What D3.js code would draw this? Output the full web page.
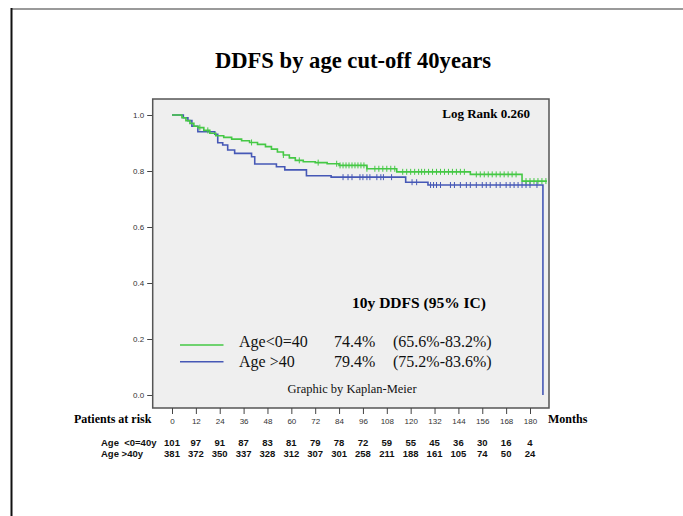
<!DOCTYPE html>
<html>
<head>
<meta charset="utf-8">
<script src="https://cdn.jsdelivr.net/npm/d3@7"></script>
<style>
  html, body { margin: 0; padding: 0; background: #fff; }
  svg { display: block; }
</style>
</head>
<body>
<svg id="chart" width="683" height="516"></svg>
<script>
// Kaplan-Meier steps: [month, survival]
const groupNames = ["Age<0=40", "Age >40"];
const greenSteps = [
  [0, 1.0], [5, 0.99], [7, 0.98], [9, 0.97], [11, 0.96], [13, 0.955], [16, 0.945],
  [19, 0.935], [22, 0.926], [26, 0.92], [30, 0.914], [35, 0.908], [39, 0.902],
  [43, 0.895], [47, 0.887], [50, 0.878], [53, 0.868], [56, 0.857], [59, 0.847],
  [62, 0.838], [66, 0.833], [72, 0.83], [78, 0.826], [84, 0.82], [98, 0.808],
  [113, 0.797], [150, 0.788], [176, 0.764], [188.5, 0.764]
];
const blueSteps = [
  [0, 1.0], [5.7, 0.99], [8, 0.98], [10, 0.96], [13, 0.94], [21.5, 0.931],
  [23, 0.901], [25.5, 0.893], [28, 0.875], [31.5, 0.863], [40, 0.851],
  [41.6, 0.825], [52.5, 0.815], [56.7, 0.804], [67.6, 0.783], [80, 0.778],
  [117.5, 0.76], [128.7, 0.75], [186.5, 0.0]
];
// censored observations (months)
const greenCensor = [
  14, 18, 40, 56, 64, 73.5, 82.8, 84.5, 86, 87.5, 89, 90.5, 92, 93.5, 95, 96.5, 98,
  102, 104, 106, 108, 110, 112, 116, 118, 120, 122, 124, 125.5, 127, 129, 131, 133,
  135, 137, 139, 141, 143, 145, 147, 153, 155, 157, 159, 161, 163, 165, 167, 169,
  171, 173, 178, 180, 182, 184, 186, 188
];
const blueCensor = [
  86, 88.5, 90.5, 94.5, 96, 98, 99.5, 103, 105, 106.3, 110.4, 120.7, 123, 130,
  131.5, 133, 135, 140, 142, 145, 148, 150, 153, 156, 158, 160, 163, 165, 168,
  170, 172, 174, 176, 178, 180, 183.5
];

const yTicks = [0.0, 0.2, 0.4, 0.6, 0.8, 1.0];
const xTicks = [0, 12, 24, 36, 48, 60, 72, 84, 96, 108, 120, 132, 144, 156, 168, 180];
const riskLabels = ["Age  <0=40y", "Age >40y"];
const riskGreen = [101, 97, 91, 87, 83, 81, 79, 78, 72, 59, 55, 45, 36, 30, 16, 4];
const riskBlue = [381, 372, 350, 337, 328, 312, 307, 301, 258, 211, 188, 161, 105, 74, 50, 24];
const tenYear = [["74.4%", "(65.6%-83.2%)"], ["79.4%", "(75.2%-83.6%)"]];

const GREEN = "#45c845";
const BLUE = "#4658b6";
const SERIF = "'Liberation Serif', 'Times New Roman', serif";
const SANS = "'Liberation Sans', Arial, sans-serif";

const svg = d3.select("#chart");

// page frame lines
svg.append("line").attr("x1", 11).attr("x2", 683).attr("y1", 9).attr("y2", 9)
  .attr("stroke", "#9a9a9a").attr("stroke-width", 2);
svg.append("line").attr("x1", 11.5).attr("x2", 11.5).attr("y1", 8).attr("y2", 516)
  .attr("stroke", "#111").attr("stroke-width", 2);

// title
svg.append("text").attr("x", 353).attr("y", 68).attr("text-anchor", "middle")
  .attr("font-family", SERIF).attr("font-weight", "bold").attr("font-size", 22.6)
  .attr("fill", "#000").text("DDFS by age cut-off 40years");

const x = d3.scaleLinear().domain([0, 180]).range([172, 530]);
const y = d3.scaleLinear().domain([0, 1]).range([395, 115]);

const frame = { left: 152.7, right: 549, top: 99, bottom: 408 };

svg.append("rect")
  .attr("x", frame.left).attr("y", frame.top)
  .attr("width", frame.right - frame.left).attr("height", frame.bottom - frame.top)
  .attr("fill", "#efefef").attr("stroke", "#555").attr("stroke-width", 1.5);

// y axis
const yAxis = d3.axisLeft(y).tickValues(yTicks).tickFormat(d3.format(".1f"))
  .tickSize(5).tickPadding(3);
const gy = svg.append("g").attr("transform", `translate(${frame.left - 0.5},0)`).call(yAxis);
gy.select(".domain").remove();
gy.selectAll("line").attr("stroke", "#444");
gy.selectAll("text").attr("font-family", SANS).attr("font-size", 8).attr("fill", "#333");

// x axis
const xAxis = d3.axisBottom(x).tickValues(xTicks).tickSize(6).tickPadding(4);
const gx = svg.append("g").attr("transform", `translate(0,${frame.bottom})`).call(xAxis);
gx.select(".domain").remove();
gx.selectAll("line").attr("stroke", "#444");
gx.selectAll("text").attr("font-family", SANS).attr("font-size", 8).attr("fill", "#333");

// curves
const line = d3.line().x(d => x(d[0])).y(d => y(d[1])).curve(d3.curveStepAfter);
const survAt = (steps, t) => {
  const i = d3.bisector(d => d[0]).right(steps, t) - 1;
  return steps[Math.max(0, i)][1];
};

function drawGroup(steps, censor, color) {
  svg.append("path").datum(steps).attr("d", line)
    .attr("fill", "none").attr("stroke", color).attr("stroke-width", 1.6);
  svg.append("g").selectAll("line").data(censor).join("line")
    .attr("x1", d => x(d)).attr("x2", d => x(d))
    .attr("y1", d => y(survAt(steps, d)) - 3)
    .attr("y2", d => y(survAt(steps, d)) + 3)
    .attr("stroke", color).attr("stroke-width", 1);
}
drawGroup(blueSteps, blueCensor, BLUE);
drawGroup(greenSteps, greenCensor, GREEN);

// annotations inside the plot
svg.append("text").attr("x", 530).attr("y", 118).attr("text-anchor", "end")
  .attr("font-family", SERIF).attr("font-weight", "bold").attr("font-size", 13)
  .text("Log Rank 0.260");
svg.append("text").attr("x", 419).attr("y", 308).attr("text-anchor", "middle")
  .attr("font-family", SERIF).attr("font-weight", "bold").attr("font-size", 15.5)
  .text("10y DDFS (95% IC)");

const legendColors = [GREEN, BLUE];
const legendY = [346.7, 367];
const legendLineY = [345, 361.7];
groupNames.forEach((name, i) => {
  svg.append("line").attr("x1", 180).attr("x2", 223.5)
    .attr("y1", legendLineY[i]).attr("y2", legendLineY[i])
    .attr("stroke", legendColors[i]).attr("stroke-width", 1.6);
  const t = svg.append("g").attr("font-family", SERIF).attr("font-size", 16).attr("fill", "#111");
  t.append("text").attr("x", 239).attr("y", legendY[i]).text(name);
  t.append("text").attr("x", 334).attr("y", legendY[i]).text(tenYear[i][0]);
  t.append("text").attr("x", 393).attr("y", legendY[i]).text(tenYear[i][1]);
});

svg.append("text").attr("x", 352).attr("y", 393).attr("text-anchor", "middle")
  .attr("font-family", SERIF).attr("font-size", 12.5).attr("fill", "#111")
  .text("Graphic by Kaplan-Meier");

// number at risk table
svg.append("text").attr("x", 74).attr("y", 423)
  .attr("font-family", SERIF).attr("font-weight", "bold").attr("font-size", 12)
  .text("Patients at risk");
svg.append("text").attr("x", 548).attr("y", 423)
  .attr("font-family", SERIF).attr("font-weight", "bold").attr("font-size", 12)
  .text("Months");

const riskRows = [riskGreen, riskBlue];
const riskY = [445.5, 457.3];
riskRows.forEach((row, r) => {
  const g = svg.append("g").attr("font-family", SANS).attr("font-weight", "bold")
    .attr("font-size", 9.5).attr("fill", "#111");
  g.append("text").attr("x", 101).attr("y", riskY[r]).attr("xml:space", "preserve")
    .style("white-space", "pre").text(riskLabels[r]);
  g.selectAll("text.n").data(row).join("text").attr("class", "n")
    .attr("x", (d, i) => x(xTicks[i])).attr("y", riskY[r])
    .attr("text-anchor", "middle").text(d => d);
});
</script>
</body>
</html>
